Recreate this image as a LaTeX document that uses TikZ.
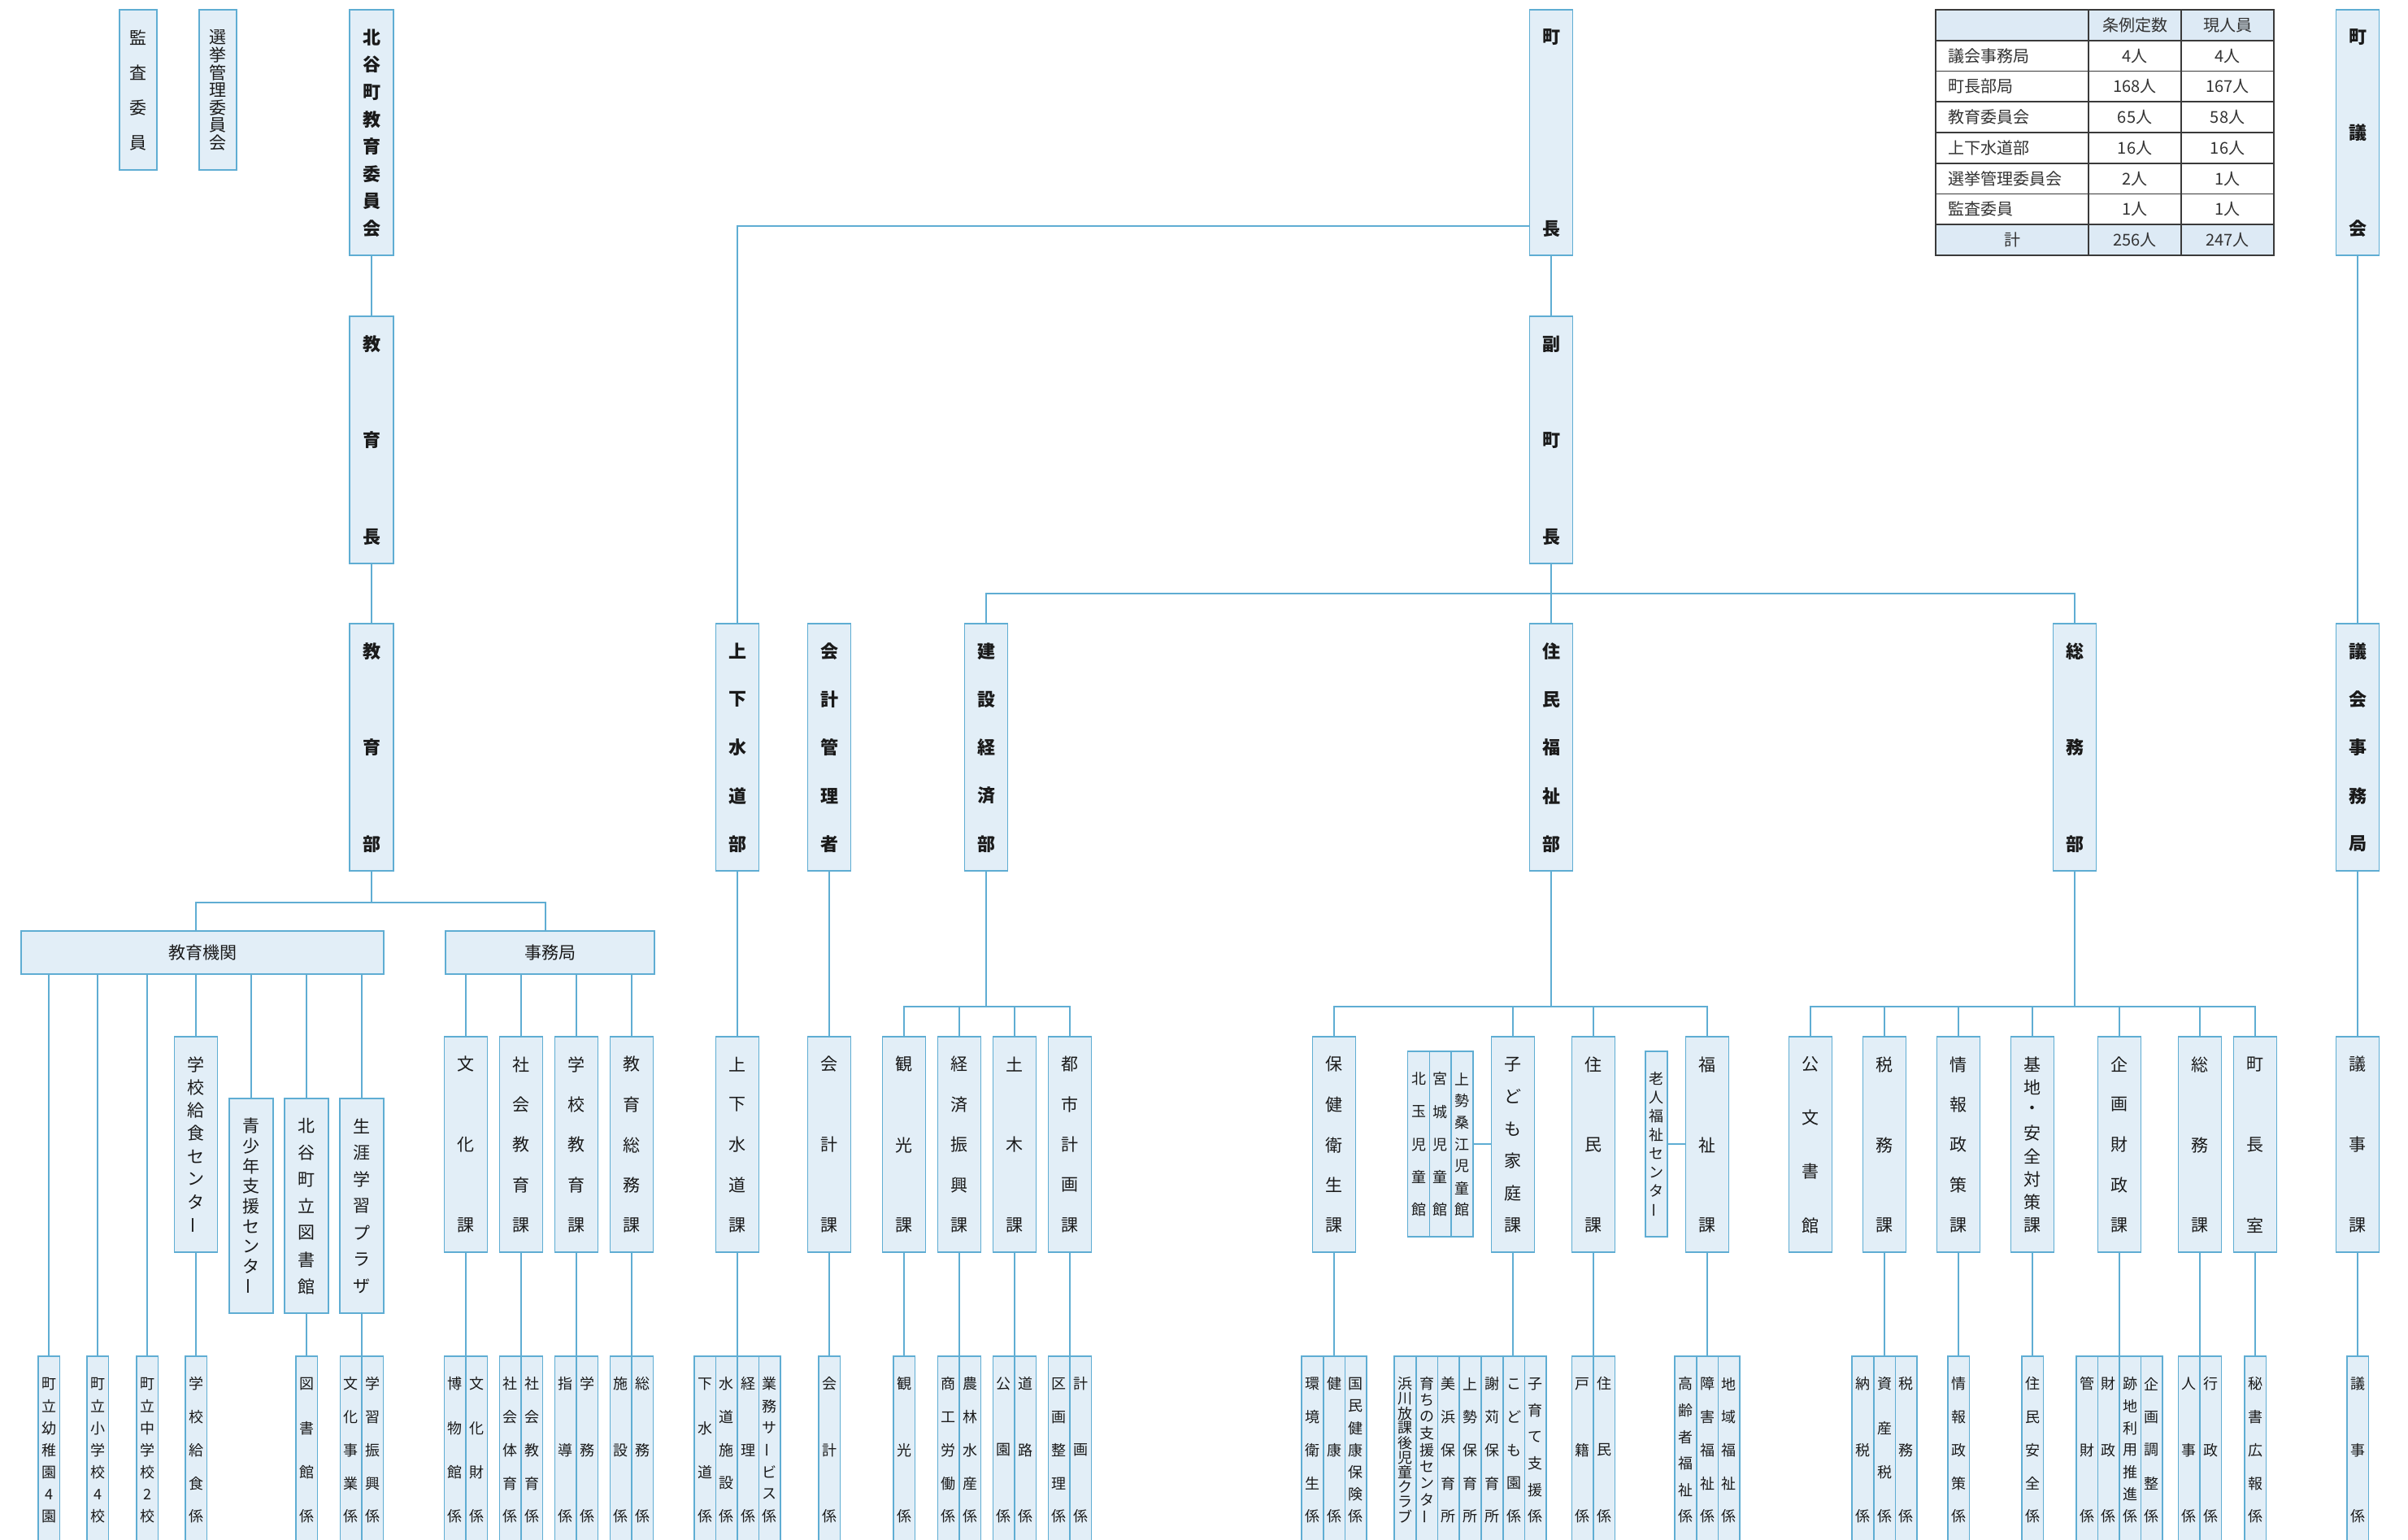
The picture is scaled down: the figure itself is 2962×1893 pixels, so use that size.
\documentclass[tikz,border=0pt]{standalone}
\usepackage{fontspec}
\setmainfont{Noto Sans CJK JP}
\definecolor{boxfill}{HTML}{E2EEF7}
\definecolor{boxline}{HTML}{5FADD3}
\definecolor{txt}{HTML}{1A1A1A}
\definecolor{tblline}{HTML}{3A3A3A}
\definecolor{tbltxt}{HTML}{333333}
\definecolor{tblfill}{HTML}{DDEAF5}
\newcommand\fT{\fontsize{22}{22}\selectfont\bfseries}
\newcommand\fR{\fontsize{21}{21}\selectfont}
\newcommand\fK{\fontsize{21}{21}\selectfont}
\newcommand\fS{\fontsize{18}{18}\selectfont}
\newcommand\fB{\fontsize{18}{18}\selectfont}
\newcommand\fTb{\fontsize{20}{20}\selectfont}
\newcommand\vbarchar{\rotatebox[origin=c]{90}{ー}}
\tikzset{
  orgbox/.style={draw=boxline,fill=boxfill,line width=1.6,inner sep=0,rectangle,text=txt},
  vch/.style={inner sep=0,text=txt},
  conn/.style={draw=boxline,line width=1.6},
  tbl/.style={draw=tblline,line width=1.6},
  tt/.style={inner sep=0,text=tbltxt,font=\fTb}
}
% name, cx, top, bottom, width, font, chars
\newcommand\obox[7]{%
  \node[orgbox, minimum width=#5, minimum height={#4-#3}] (#1) at (#2,{(#3+#4)/2}) {};%
  \foreach \vc [count=\vn] in {#7} {\xdef\vlN{\vn}}%
  \foreach \vc [count=\vi from 0] in {#7} {%
    \node[vch, font=#6] (#1-\vi) at (#2,{#3+34+\vi*((#4-33)-(#3+34))/(\vlN-1)}) {\vc};%
  }%
}
\newcommand\kbox[3]{\obox{#1}{#2}{1275}{1540}{53}{\fK}{#3}}
\newcommand\bbox[3]{\obox{#1}{#2}{1668}{1898}{26.6}{\fB}{#3}}
\begin{document}
\begin{tikzpicture}[x=1pt,y=-1pt]
\useasboundingbox (0,0) rectangle (2962,1893);
\clip (0,0) rectangle (2962,1893);
\fill[white] (0,0) rectangle (2962,1893);
% top row
\obox{kansa}{170}{12}{209}{46}{\fR}{監,査,委,員}
\obox{senkyo}{268}{12}{209}{46}{\fR}{選,挙,管,理,委,員,会}
\obox{kyoi}{457}{12}{314}{54}{\fT}{北,谷,町,教,育,委,員,会}
\obox{chocho}{1908}{12}{314}{53}{\fT}{町,長}
\obox{gikai}{2900}{12}{314}{53}{\fT}{町,議,会}
% row 2
\obox{kyoikucho}{457}{389}{693}{54}{\fT}{教,育,長}
\obox{fuku}{1908}{389}{693}{53}{\fT}{副,町,長}
% row 3
\obox{kyoikubu}{457}{767}{1071}{54}{\fT}{教,育,部}
\obox{suido}{907}{767}{1071}{53}{\fT}{上,下,水,道,部}
\obox{kaikeik}{1020}{767}{1071}{53}{\fT}{会,計,管,理,者}
\obox{kensetsu}{1213}{767}{1071}{53}{\fT}{建,設,経,済,部}
\obox{jumin}{1908}{767}{1071}{53}{\fT}{住,民,福,祉,部}
\obox{somu}{2552}{767}{1071}{53}{\fT}{総,務,部}
\obox{jimukyoku}{2900}{767}{1071}{53}{\fT}{議,会,事,務,局}
% education
\node[orgbox, minimum width=446, minimum height=53, font=\fK] (kikan) at (249,1171.5) {教育機関};
\node[orgbox, minimum width=257, minimum height=53, font=\fK] (jimu) at (676.5,1171.5) {事務局};
\kbox{kyushoku}{241}{学,校,給,食,セ,ン,タ,\vbarchar}
\obox{seishonen}{309}{1351}{1615}{54}{\fK}{青,少,年,支,援,セ,ン,タ,\vbarchar}
\obox{tosho}{377}{1351}{1615}{54}{\fK}{北,谷,町,立,図,書,館}
\obox{plaza}{445}{1351}{1615}{54}{\fK}{生,涯,学,習,プ,ラ,ザ}
\kbox{bunka}{573}{文,化,課}
\kbox{shakai}{641}{社,会,教,育,課}
\kbox{gakko}{709}{学,校,教,育,課}
\kbox{kyoso}{777}{教,育,総,務,課}
\bbox{b1}{60}{町,立,幼,稚,園,4,園}
\bbox{b2}{120}{町,立,小,学,校,4,校}
\bbox{b3}{181}{町,立,中,学,校,2,校}
\bbox{b4}{241}{学,校,給,食,係}
\bbox{b5}{377}{図,書,館,係}
\bbox{b6}{431.7}{文,化,事,業,係}
\bbox{b7}{458.3}{学,習,振,興,係}
\bbox{b8}{559.7}{博,物,館,係}
\bbox{b9}{586.3}{文,化,財,係}
\bbox{b10}{627.7}{社,会,体,育,係}
\bbox{b11}{654.3}{社,会,教,育,係}
\bbox{b12}{695.7}{指,導,係}
\bbox{b13}{722.3}{学,務,係}
\bbox{b14}{763.7}{施,設,係}
\bbox{b15}{790.3}{総,務,係}
% water
\kbox{suidok}{907}{上,下,水,道,課}
\bbox{s1}{867.1}{下,水,道,係}
\bbox{s2}{893.7}{水,道,施,設,係}
\bbox{s3}{920.3}{経,理,係}
\bbox{s4}{946.9}{業,務,サ,\vbarchar,ビ,ス,係}
% accounting
\kbox{kaikeika}{1020}{会,計,課}
\bbox{k1}{1020}{会,計,係}
% construction
\kbox{kanko}{1112}{観,光,課}
\kbox{keizai}{1180}{経,済,振,興,課}
\kbox{doboku}{1248}{土,木,課}
\kbox{toshi}{1316}{都,市,計,画,課}
\bbox{c1}{1112}{観,光,係}
\bbox{c2}{1166.7}{商,工,労,働,係}
\bbox{c3}{1193.3}{農,林,水,産,係}
\bbox{c4}{1234.7}{公,園,係}
\bbox{c5}{1261.3}{道,路,係}
\bbox{c6}{1302.7}{区,画,整,理,係}
\bbox{c7}{1329.3}{計,画,係}
% welfare
\kbox{hoken}{1641}{保,健,衛,生,課}
\obox{j1}{1745}{1293}{1521}{26.7}{\fS}{北,玉,児,童,館}
\obox{j2}{1771.7}{1293}{1521}{26.7}{\fS}{宮,城,児,童,館}
\obox{j3}{1798.4}{1293}{1521}{26.7}{\fS}{上,勢,桑,江,児,童,館}
\kbox{kodomo}{1861}{子,ど,も,家,庭,課}
\kbox{juminka}{1960}{住,民,課}
\obox{rojin}{2037.5}{1293}{1521}{27}{\fS}{老,人,福,祉,セ,ン,タ,\vbarchar}
\kbox{fukushi}{2100}{福,祉,課}
\bbox{h1}{1614.3}{環,境,衛,生,係}
\bbox{h2}{1641}{健,康,係}
\bbox{h3}{1667.7}{国,民,健,康,保,険,係}
\bbox{d1}{1728.5}{浜,川,放,課,後,児,童,ク,ラ,ブ}
\bbox{d2}{1755.2}{育,ち,の,支,援,セ,ン,タ,\vbarchar}
\bbox{d3}{1781.9}{美,浜,保,育,所}
\bbox{d4}{1808.6}{上,勢,保,育,所}
\bbox{d5}{1835.3}{謝,苅,保,育,所}
\bbox{d6}{1862}{こ,ど,も,園,係}
\bbox{d7}{1888.7}{子,育,て,支,援,係}
\bbox{r1}{1946.7}{戸,籍,係}
\bbox{r2}{1973.3}{住,民,係}
\bbox{f1}{2073.3}{高,齢,者,福,祉,係}
\bbox{f2}{2100}{障,害,福,祉,係}
\bbox{f3}{2126.7}{地,域,福,祉,係}
% general affairs
\kbox{kobun}{2227}{公,文,書,館}
\kbox{zeimu}{2318}{税,務,課}
\kbox{joho}{2409}{情,報,政,策,課}
\kbox{kichi}{2500}{基,地,・,安,全,対,策,課}
\kbox{kikaku}{2607}{企,画,財,政,課}
\kbox{somuka}{2706}{総,務,課}
\kbox{chochoshitsu}{2774}{町,長,室}
\kbox{gijika}{2900}{議,事,課}
\bbox{z1}{2291.4}{納,税,係}
\bbox{z2}{2318}{資,産,税,係}
\bbox{z3}{2344.6}{税,務,係}
\bbox{i1}{2409}{情,報,政,策,係}
\bbox{a1}{2500}{住,民,安,全,係}
\bbox{p1}{2567.1}{管,財,係}
\bbox{p2}{2593.7}{財,政,係}
\bbox{p3}{2620.3}{跡,地,利,用,推,進,係}
\bbox{p4}{2646.9}{企,画,調,整,係}
\bbox{q1}{2692.7}{人,事,係}
\bbox{q2}{2719.3}{行,政,係}
\bbox{m1}{2774}{秘,書,広,報,係}
\bbox{g1}{2900}{議,事,係}
% ---------- connectors
\draw[conn] (kyoi.south) -- (kyoikucho.north);
\draw[conn] (kyoikucho.south) -- (kyoikubu.north);
\path (kyoikubu.south) ++(0,38) coordinate (ebus);
\draw[conn] (kyoikubu.south) -- (ebus);
\draw[conn] (kyushoku.north |- kikan.north) |- (ebus) -| ([xshift=-5.5pt]jimu.north);
\foreach \n in {b1,b2,b3} \draw[conn] (\n.north |- kikan.south) -- (\n.north);
\foreach \n in {kyushoku,seishonen,tosho,plaza} \draw[conn] (\n.north |- kikan.south) -- (\n.north);
\draw[conn] (kyushoku.south) -- (b4.north);
\draw[conn] (tosho.south) -- (b5.north);
\draw[conn] (plaza.south) -- (plaza.south |- b6.north);
\foreach \k/\c in {bunka/b8,shakai/b10,gakko/b12,kyoso/b14} {
  \draw[conn] (\k.north |- jimu.south) -- (\k.north);
  \draw[conn] (\k.south) -- (\k.south |- \c.north);
}
\draw[conn] ([yshift=-115pt]chocho.west) -| (suido.north);
\draw[conn] (chocho.south) -- (fuku.north);
\draw[conn] (fuku.south) -- (jumin.north);
\path (kensetsu.north) ++(0,-36) coordinate (kbus);
\draw[conn] (kensetsu.north) -- (kbus) -| (somu.north);
\draw[conn] (suido.south) -- (suidok.north);
\draw[conn] (suidok.south) -- (suidok.south |- s2.north);
\draw[conn] (kaikeik.south) -- (kaikeika.north);
\draw[conn] (kaikeika.south) -- (k1.north);
% construction bus
\path (kensetsu.south) ++(0,166) coordinate (kb1);
\draw[conn] (kensetsu.south) -- (kb1);
\draw[conn] (kanko.north) |- (kb1) -| (toshi.north);
\foreach \n in {keizai,doboku} \draw[conn] (\n.north) -- (\n.north |- kb1);
\foreach \k/\c in {kanko/c1,keizai/c2,doboku/c4,toshi/c6} \draw[conn] (\k.south) -- (\k.south |- \c.north);
% welfare bus
\path (jumin.south) ++(0,166) coordinate (jb);
\draw[conn] (jumin.south) -- (jb);
\draw[conn] (hoken.north) |- (jb) -| (fukushi.north);
\foreach \n in {kodomo,juminka} \draw[conn] (\n.north) -- (\n.north |- jb);
\draw[conn] (j3.east) -- (kodomo.west |- j3.east);
\draw[conn] (rojin.east) -- (fukushi.west |- rojin.east);
\foreach \k/\c in {hoken/h2,kodomo/d6,juminka/r1,fukushi/f2} \draw[conn] (\k.south) -- (\k.south |- \c.north);
% general affairs bus
\path (somu.south) ++(0,166) coordinate (sb);
\draw[conn] (somu.south) -- (sb);
\draw[conn] (kobun.north) |- (sb) -| (chochoshitsu.north);
\foreach \n in {zeimu,joho,kichi,kikaku,somuka} \draw[conn] (\n.north) -- (\n.north |- sb);
\foreach \k/\c in {zeimu/z2,joho/i1,kichi/a1,kikaku/p2,somuka/q1,chochoshitsu/m1} \draw[conn] (\k.south) -- (\k.south |- \c.north);
% council
\draw[conn] (gikai.south) -- (jimukyoku.north);
\draw[conn] (jimukyoku.south) -- (gijika.north);
\draw[conn] (gijika.south) -- (g1.north);
% ---------- table
\fill[tblfill] (2381,12) rectangle (2797,49.75);
\fill[tblfill] (2381,276.25) rectangle (2797,314);
\foreach \k in {1,...,7} \draw[tbl] (2381,{12+37.75*\k}) -- (2797,{12+37.75*\k});
\draw[tbl] (2569,12) -- (2569,314);
\draw[tbl] (2683,12) -- (2683,314);
\draw[tbl] (2381,12) rectangle (2797,314);
\node[tt] (th1) at (2626,30.9) {条例定数};
\node[tt] (th2) at (2740,30.9) {現人員};
\foreach \lab/\a/\b [count=\r] in {議会事務局/4人/4人,町長部局/168人/167人,教育委員会/65人/58人,上下水道部/16人/16人,選挙管理委員会/2人/1人,監査委員/1人/1人} {
  \node[tt,anchor=west] (tl\r) at (2396,{12+37.75*(\r+0.5)}) {\lab};
  \node[tt] (ta\r) at (2626,{12+37.75*(\r+0.5)}) {\a};
  \node[tt] (tb\r) at (2740,{12+37.75*(\r+0.5)}) {\b};
}
\node[tt] (tl7) at (2475,295.1) {計};
\node[tt] (ta7) at (2626,295.1) {256人};
\node[tt] (tb7) at (2740,295.1) {247人};
\end{tikzpicture}
\end{document}
